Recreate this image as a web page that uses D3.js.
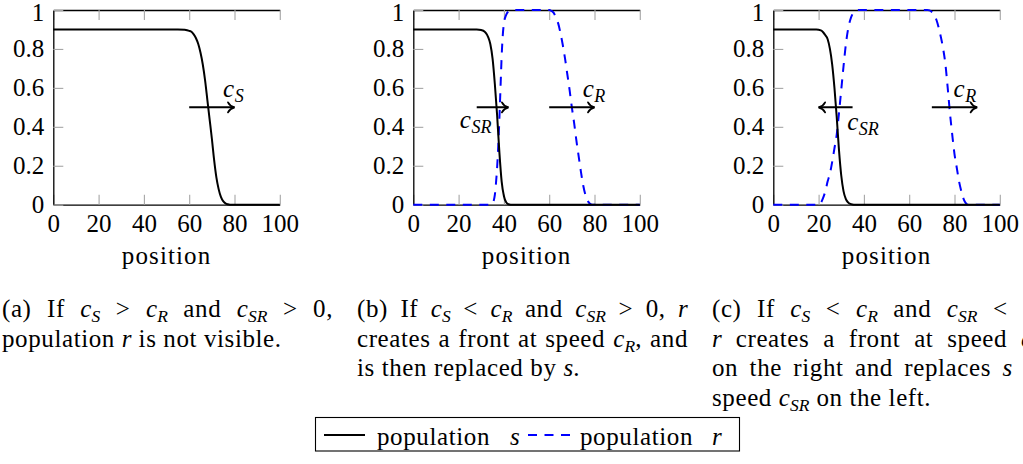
<!DOCTYPE html>
<html>
<head>
<meta charset="utf-8">
<script src="https://cdn.jsdelivr.net/npm/d3@7"></script>
<style>
html,body{margin:0;padding:0;background:#fff;overflow:hidden;width:1023px;height:464px}
#wrap{position:relative;width:1023px;height:464px;overflow:hidden}
#wrap svg{position:absolute;left:0;top:0}
.cap{position:absolute;font-family:"Liberation Serif","Times New Roman",Times,serif;font-size:25px;line-height:29.6px;color:#000;width:331px;letter-spacing:0.6px}
.cap .ln{white-space:nowrap}
.cap .jl{text-align:justify;text-align-last:justify;white-space:normal}
.cap sub{font-size:0.7em;vertical-align:-0.28em;line-height:0;font-style:italic;letter-spacing:0}
.cap i{letter-spacing:0.2px}
</style>
</head>
<body>
<div id="wrap"></div>
<script>
// ---------- data ----------
const X_TICKS = [0, 20, 40, 60, 80, 100];
const Y_TICKS = [0, 0.2, 0.4, 0.6, 0.8, 1];

// panel (a): population s
const sA = [[0,0.9],[55,0.9],[58,0.898],[60,0.893],[61,0.888],[62,0.875],[63,0.855],[64,0.825],[65,0.78],[66,0.72],[67,0.64],[68,0.54],[69,0.44],[70,0.34],[71,0.23],[72,0.14],[73,0.08],[74,0.04],[75,0.018],[76,0.007],[77,0.002],[78,0],[100,0]];

// panel (b)
const sB = [[0,0.9],[28,0.9],[30,0.897],[31,0.893],[32,0.882],[33,0.862],[34,0.825],[35,0.75],[36,0.62],[37,0.46],[38,0.27],[39,0.12],[40,0.045],[41,0.012],[42,0.002],[43,0],[100,0]];
const rB = [[0,0],[34,0],[35,0.005],[35.5,0.02],[36,0.05],[36.5,0.11],[37,0.19],[37.5,0.3],[38,0.44],[38.5,0.6],[39,0.76],[39.5,0.87],[40,0.93],[41,0.975],[42,0.992],[43,0.998],[44,1],[60,1],[61,0.995],[62,0.985],[63,0.96],[64,0.93],[65,0.88],[66,0.82],[67,0.75],[68,0.67],[69,0.59],[70,0.5],[71,0.42],[72,0.33],[73,0.25],[74,0.17],[75,0.1],[76,0.05],[77,0.02],[78,0.005],[79,0],[100,0]];

// panel (c)
const sC = [[0,0.9],[19,0.9],[21,0.895],[22,0.886],[23,0.87],[24,0.85],[25,0.8],[26,0.72],[27,0.6],[28,0.45],[29,0.28],[30,0.15],[31,0.07],[32,0.03],[33,0.012],[34,0.004],[35,0.001],[36,0],[100,0]];
const rC = [[0,0],[20,0],[21,0.01],[22,0.035],[23,0.07],[24,0.12],[25,0.16],[26,0.22],[27,0.29],[28,0.36],[29,0.47],[30,0.59],[31,0.71],[32,0.82],[33,0.9],[34,0.95],[35,0.98],[36,0.995],[37,1],[68,1],[69,0.998],[70,0.99],[71,0.975],[72,0.95],[73,0.91],[74,0.86],[75,0.8],[76,0.72],[77,0.6],[78,0.47],[79,0.36],[80,0.26],[81,0.19],[82,0.12],[83,0.07],[84,0.03],[85,0.008],[86,0],[100,0]];

// arrows: from, to (at height y)
const arrowsA = [{from:60, to:80, y:0.5}];
const arrowsB = [{from:28, to:42, y:0.5}, {from:60, to:80, y:0.5}];
const arrowsC = [{from:35, to:20, y:0.5}, {from:70, to:90, y:0.5}];

// speed labels: position (x,y) of centre/baseline, subscript
const labelsA = [{x:79.5, y:0.555, sub:"S"}];
const labelsB = [{x:79.8, y:0.555, sub:"R"}, {x:27.5, y:0.394, sub:"SR"}];
const labelsC = [{x:84.6, y:0.555, sub:"R"}, {x:39.6, y:0.384, sub:"SR"}];

const c = s => `<i>c</i><sub>${s}</sub>`;
const captionA = [`(a) If ${c("S")} &gt; ${c("R")} and ${c("SR")} &gt; 0,`, `population <i>r</i> is not visible.`];
const captionB = [`(b) If ${c("S")} &lt; ${c("R")} and ${c("SR")} &gt; 0, <i>r</i>`, `creates a front at speed ${c("R")}, and`, `is then replaced by <i>s</i>.`];
const captionC = [`(c) If ${c("S")} &lt; ${c("R")} and ${c("SR")} &lt; 0,`, `<i>r</i> creates a front at speed ${c("R")}`, `on the right and replaces <i>s</i> at`, `speed ${c("SR")} on the left.`];

const xLabel = "position";
const legendItems = [{name:"population", it:"s", type:"s"}, {name:"population", it:"r", type:"r"}];

// ---------- layout ----------
const W = 1023, H = 464;
const FONT = "\"Liberation Serif\", \"Times New Roman\", Times, serif";
const plotTop = 10, plotBottom = 204.7, plotW = 226.5;
const panels = [
  {left:53.3, s:sA, r:null, arrows:arrowsA, labels:labelsA, caption:captionA, capLeft:2},
  {left:413.3, s:sB, r:rB, arrows:arrowsB, labels:labelsB, caption:captionB, capLeft:357},
  {left:773.3, s:sC, r:rC, arrows:arrowsC, labels:labelsC, caption:captionC, capLeft:712}
];

const wrap = d3.select("#wrap");
const svg = wrap.append("svg").attr("width", W).attr("height", H)
  .style("font-family", FONT);

svg.append("defs").append("marker")
  .attr("id","tip").attr("markerUnits","userSpaceOnUse")
  .attr("viewBox","-9 -7 11 14").attr("markerWidth",11).attr("markerHeight",14)
  .attr("refX",0).attr("refY",0).attr("orient","auto")
  .append("path")
  .attr("d","M-6.5,-5 C-5,-2 -2,-0.5 0,0 C-2,0.5 -5,2 -6.5,5")
  .attr("fill","none").attr("stroke","#000").attr("stroke-width",1.8).attr("stroke-linecap","round");

const yScale = d3.scaleLinear([0,1],[plotBottom, plotTop]);
const TICK_GRAY = "#a6a6a6";

function styleAxis(g){
  g.attr("font-family", null);
  g.select(".domain").attr("stroke","#000").attr("stroke-width",1.3);
  g.selectAll(".tick line").attr("stroke",TICK_GRAY).attr("stroke-width",1.1);
  g.selectAll(".tick text").style("font-family",FONT).attr("font-size",25).attr("fill","#000");
}

panels.forEach(p => {
  const x = d3.scaleLinear([0,100],[p.left, p.left + plotW]);
  const g = svg.append("g");

  // bottom axis
  g.append("g").attr("transform",`translate(0,${plotBottom})`)
    .call(d3.axisBottom(x).tickValues(X_TICKS).tickSizeInner(-10).tickSizeOuter(0).tickPadding(10).tickFormat(d3.format("d")))
    .call(styleAxis);
  // top axis (ticks only, no labels)
  g.append("g").attr("transform",`translate(0,${plotTop})`)
    .call(d3.axisTop(x).tickValues(X_TICKS).tickSizeInner(-10).tickSizeOuter(0).tickFormat(""))
    .call(styleAxis);
  // left axis
  g.append("g").attr("transform",`translate(${p.left},0)`)
    .call(d3.axisLeft(yScale).tickValues(Y_TICKS).tickSizeInner(-10).tickSizeOuter(0).tickPadding(9).tickFormat(d => String(d)))
    .call(styleAxis)
    .call(ax => ax.selectAll(".tick text").filter(d => d === 1).attr("dy","0.42em"));

  // x label
  g.append("text").attr("x", p.left + plotW/2).attr("y", 263.5)
    .attr("text-anchor","middle").style("font-family",FONT).attr("font-size",25)
    .attr("letter-spacing","1.1px").text(xLabel);

  const line = d3.line().x(d => x(d[0])).y(d => yScale(d[1])).curve(d3.curveMonotoneX);

  if (p.r) {
    g.append("path").datum(p.r).attr("d", line).attr("fill","none")
      .attr("stroke","#0000ff").attr("stroke-width",2).attr("stroke-dasharray","9,7.5");
  }
  g.append("path").datum(p.s).attr("d", line).attr("fill","none")
    .attr("stroke","#000").attr("stroke-width",2);

  p.arrows.forEach(a => {
    g.append("line").attr("x1", x(a.from)).attr("x2", x(a.to))
      .attr("y1", yScale(a.y)).attr("y2", yScale(a.y))
      .attr("stroke","#000").attr("stroke-width",2).attr("marker-end","url(#tip)");
  });

  p.labels.forEach(l => {
    const t = g.append("text").attr("x", x(l.x)).attr("y", yScale(l.y))
      .attr("text-anchor","middle").style("font-family",FONT).attr("font-size",25).attr("font-style","italic");
    t.append("tspan").text("c");
    t.append("tspan").attr("font-size",18).attr("dy",5).attr("dx",0.5).text(l.sub);
  });

  // caption
  const cap = wrap.append("div").attr("class","cap")
    .style("left", p.capLeft + "px").style("top", "294px");
  p.caption.forEach((ln, i) => {
    cap.append("div").attr("class", i < p.caption.length - 1 ? "ln jl" : "ln").html(ln);
  });
});

// legend
const lg = svg.append("g");
lg.append("rect").attr("x",315.5).attr("y",417.5).attr("width",424).attr("height",33.5)
  .attr("fill","#fff").attr("stroke","#000").attr("stroke-width",1.1);
const legendPos = [{x1:324, x2:365, tx:377, ix:510}, {x1:528, x2:570, tx:580, ix:712}];
legendItems.forEach((it, i) => {
  const pos = legendPos[i];
  lg.append("line").attr("x1",pos.x1).attr("x2",pos.x2).attr("y1",435).attr("y2",435)
    .attr("stroke", it.type === "s" ? "#000" : "#0000ff").attr("stroke-width",2)
    .attr("stroke-dasharray", it.type === "s" ? null : "9,7.5");
  lg.append("text").attr("x",pos.tx).attr("y",444.5)
    .style("font-family",FONT).attr("font-size",25).attr("letter-spacing","0.6px")
    .attr("textLength", 113).attr("lengthAdjust","spacing").text(it.name);
  lg.append("text").attr("x",pos.ix).attr("y",444.5)
    .style("font-family",FONT).attr("font-size",25).attr("font-style","italic").text(it.it);
});
</script>
</body>
</html>
